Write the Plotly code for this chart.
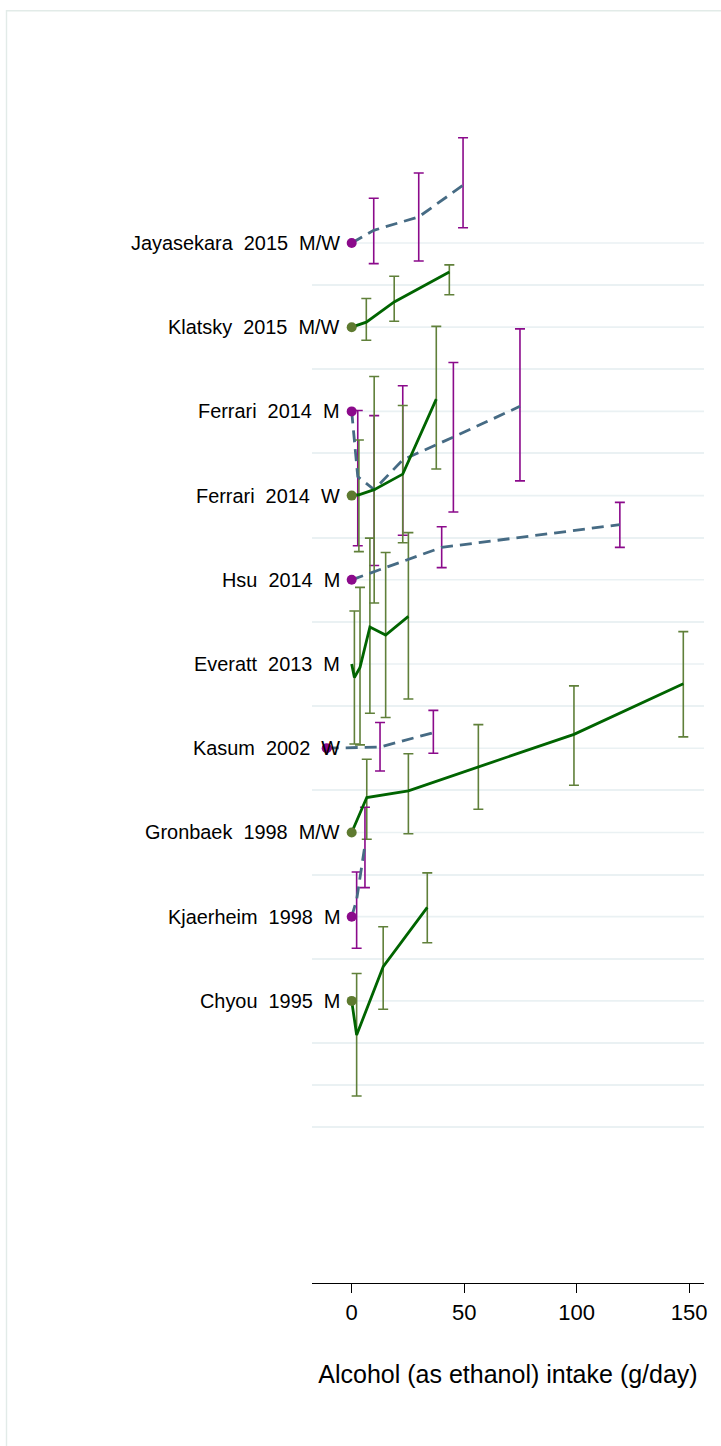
import plotly.graph_objects as go

# Studies, top to bottom
studies = ["Jayasekara  2015  M/W", "Klatsky  2015  M/W", "Ferrari  2014  M", "Ferrari  2014  W",
           "Hsu  2014  M", "Everatt  2013  M", "Kasum  2002  W", "Gronbaek  1998  M/W",
           "Kjaerheim  1998  M", "Chyou  1995  M"]
group = ["p", "g", "p", "g", "p", "g", "p", "g", "p", "g"]
show_reference = [True, True, True, True, True, False, True, True, True, True]

# Alcohol dose (g/day) for each category; first entry is the reference category
dose = [
    [0, 9.8, 29.8, 49.5],
    [0, 6.5, 18.9, 43.4],
    [0, 2.7, 10.0, 22.7, 45.2, 74.8],
    [0, 3.2, 10.0, 22.7, 37.6],
    [0, 40.0, 119.2],
    [0, 1.2, 3.7, 8.1, 15.1, 25.2],
    [-11.1, 12.6, 36.3],
    [0, 6.7, 25.2, 56.3, 98.8, 147.4],
    [0, 2.2, 5.9],
    [0, 2.2, 14.0, 33.6],
]
# Effect estimate relative to the reference category, with lower / upper limits
est = [
    [0, 0.30, 0.62, 1.37],
    [0, 0.12, 0.60, 1.31],
    [0, -1.55, -1.86, -1.15, -0.61, 0.12],
    [0, 0.02, 0.14, 0.51, 2.29],
    [0, 0.77, 1.31],
    [0, -0.32, -0.08, 0.88, 0.69, 1.13],
    [0, 0.03, 0.37],
    [0, 0.83, 0.99, 1.56, 2.33, 3.53],
    [0, 0.40, 1.70],
    [0, -0.81, 0.81, 2.22],
]
lower = [
    [None, -0.49, -0.43, 0.36],
    [None, -0.31, 0.14, 0.77],
    [None, -3.19, -3.66, -2.94, -2.39, -1.65],
    [None, -1.33, -2.55, -1.12, 0.63],
    [None, 0.29, 0.77],
    [None, -1.90, -1.92, -1.17, -1.27, -0.83],
    [None, -0.54, -0.12],
    [None, -0.16, -0.03, 0.55, 1.12, 2.27],
    [None, -0.75, 0.69],
    [None, -2.26, -0.20, 1.38],
]
upper = [
    [None, 1.06, 1.66, 2.50],
    [None, 0.68, 1.21, 1.48],
    [None, 0.02, -0.10, 0.61, 1.16, 1.96],
    [None, 1.32, 2.83, 2.14, 4.02],
    [None, 1.26, 1.84],
    [None, 1.26, 1.82, 2.99, 2.65, 3.12],
    [None, 0.61, 0.90],
    [None, 1.74, 1.87, 2.56, 3.48, 4.77],
    [None, 1.06, 2.60],
    [None, 0.65, 1.76, 3.04],
]
x_ticks = [0, 50, 100, 150]
x_title = "Alcohol (as ethanol) intake (g/day)"

W, H = 721, 1446
ML, MR, MT, MB = 312, 17, 40, 163
X_RANGE = [-17.64, 156.6]
Y_RANGE = [-6.70, 22.82]

style = {
    "p": dict(marker="#8B0A8B", bar="#8B0A8B", line="#466B84", dash="12px,7px"),
    "g": dict(marker="#5E7A30", bar="#60803A", line="#006400", dash="solid"),
}
GRID = "#EAF1F3"
FONT = "Liberation Sans, Arial, Helvetica, sans-serif"

n = len(studies)
baseline = [2 * (n - 1 - i) for i in range(n)]

fig = go.Figure()

# confidence intervals
for i in range(n):
    s = style[group[i]]
    xs, ys, up, dn = [], [], [], []
    for d, e, lo, hi in zip(dose[i], est[i], lower[i], upper[i]):
        if lo is None:
            continue
        xs.append(d)
        ys.append(baseline[i] + e)
        up.append(hi - e)
        dn.append(e - lo)
    fig.add_trace(go.Scatter(
        x=xs, y=ys, mode="markers",
        marker=dict(size=1, color="rgba(0,0,0,0)"),
        error_y=dict(type="data", symmetric=False, array=up, arrayminus=dn,
                     color=s["bar"], thickness=1.6, width=5),
        showlegend=False, hoverinfo="skip"))

# dose-response curves
for i in range(n):
    s = style[group[i]]
    fig.add_trace(go.Scatter(
        x=dose[i], y=[baseline[i] + e for e in est[i]], mode="lines",
        line=dict(color=s["line"], width=2.8, dash=s["dash"]),
        showlegend=False, hoverinfo="skip"))

# reference category markers
for i in range(n):
    if not show_reference[i]:
        continue
    s = style[group[i]]
    fig.add_trace(go.Scatter(
        x=[dose[i][0]], y=[baseline[i] + est[i][0]], mode="markers",
        marker=dict(size=10, color=s["marker"]),
        showlegend=False, hoverinfo="skip"))

shapes = []
# study baselines start at zero intake
for b in baseline:
    shapes.append(dict(type="line", xref="x", yref="y", x0=0, x1=X_RANGE[1], y0=b, y1=b,
                       line=dict(color=GRID, width=1.6), layer="below"))

# outer frame
pw, ph = W - ML - MR, H - MT - MB
fx0 = (6.5 - ML) / pw
fy1 = 1 - (10.7 - MT) / ph
shapes.append(dict(type="rect", xref="paper", yref="paper",
                   x0=fx0, x1=(W + 20 - ML) / pw, y0=-(H + 20 - MT - ph) / ph, y1=fy1,
                   line=dict(color="#E2EBE8", width=1.4), fillcolor="rgba(0,0,0,0)", layer="below"))

annotations = [dict(x=0, y=b, xref="x", yref="y", text=lab, showarrow=False,
                    xanchor="right", yanchor="middle", xshift=-10,
                    font=dict(family=FONT, size=19.9, color="black"))
               for lab, b in zip(studies, baseline)]

grid_vals = [-3, -2, -1] + list(range(1, 18, 2))

fig.update_layout(
    width=W, height=H, autosize=False,
    margin=dict(l=ML, r=MR, t=MT, b=MB, pad=0),
    paper_bgcolor="white", plot_bgcolor="white",
    shapes=shapes, annotations=annotations,
    font=dict(family=FONT, color="black"),
    xaxis=dict(range=X_RANGE, tickvals=x_ticks, ticktext=[str(t) for t in x_ticks],
               showgrid=False, zeroline=False, showline=True, linecolor="black", linewidth=1.3,
               ticks="outside", ticklen=9, tickwidth=1.3, tickcolor="black",
               tickfont=dict(size=22, family=FONT, color="black"),
               title=dict(text=x_title, font=dict(size=25, family=FONT, color="black"), standoff=41)),
    yaxis=dict(range=Y_RANGE, tickvals=grid_vals, showticklabels=False, ticks="",
               showgrid=True, gridcolor=GRID, gridwidth=1.6, zeroline=False, showline=False),
)

fig.write_html("out.html")
